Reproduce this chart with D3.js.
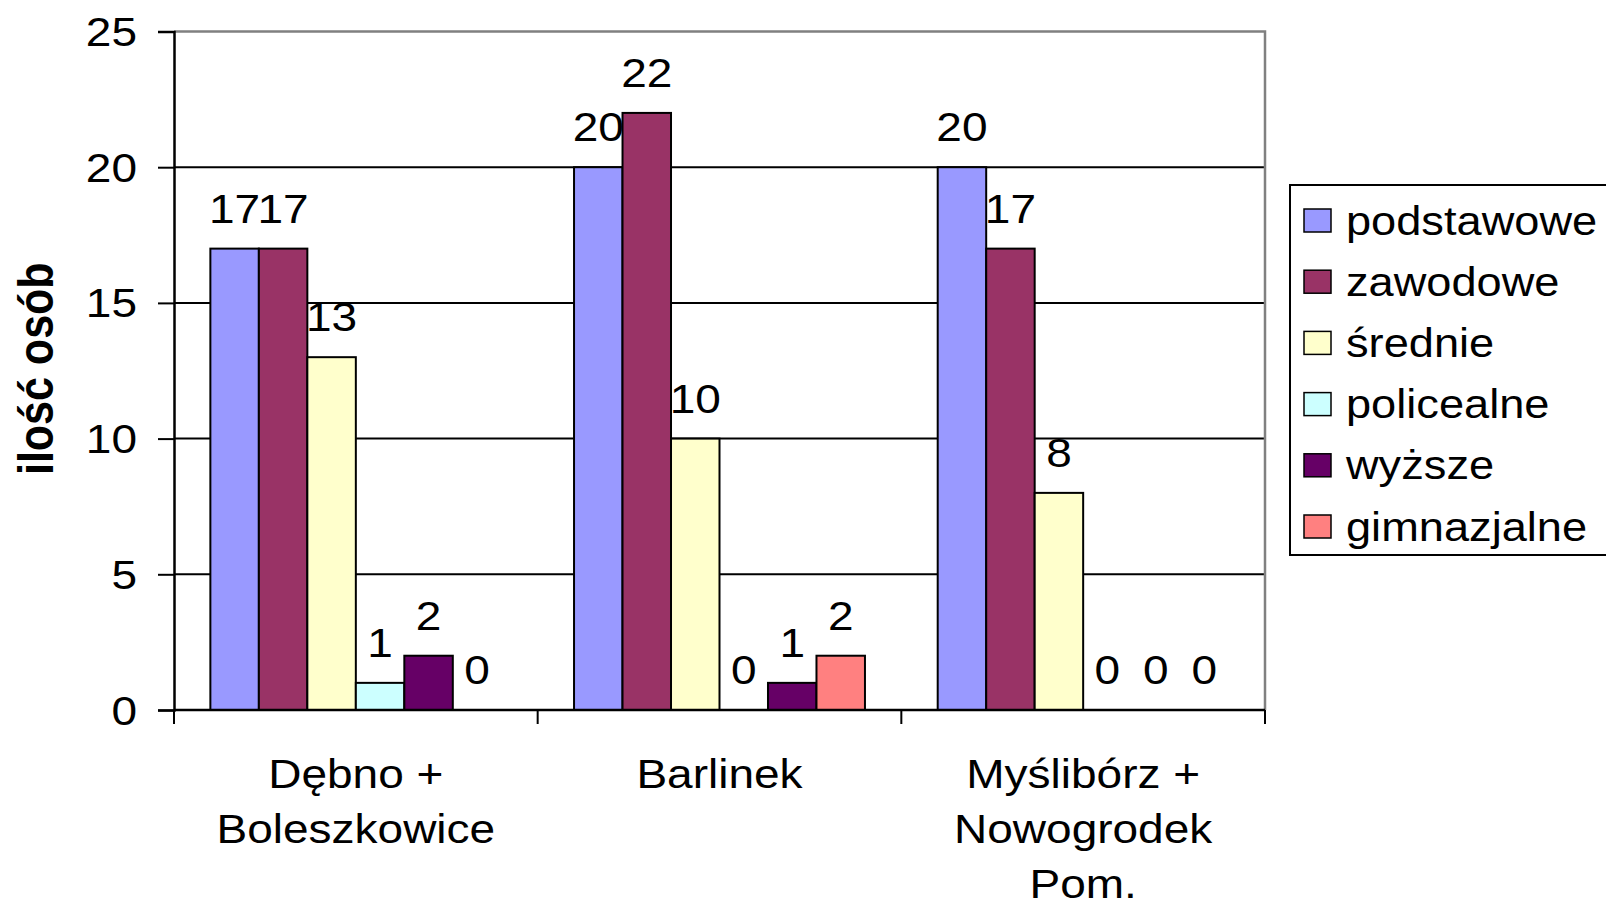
<!DOCTYPE html>
<html>
<head>
<meta charset="utf-8">
<script src="https://cdn.jsdelivr.net/npm/d3@7"></script>
<style>
  html, body { margin: 0; padding: 0; background: #fff; }
  svg { display: block; }
  text { font-family: "Liberation Sans", Arial, sans-serif; fill: #000; }
</style>
</head>
<body>
<svg id="chart" width="1606" height="901"></svg>
<script>
// ---- data ----
const categories = [["Dębno +", "Boleszkowice"], ["Barlinek"], ["Myślibórz +", "Nowogrodek", "Pom."]];
const seriesNames = ["podstawowe", "zawodowe", "średnie", "policealne", "wyższe", "gimnazjalne"];
const seriesColors = ["#9999FF", "#993366", "#FFFFCC", "#CCFFFF", "#660066", "#FF8080"];
const podstawowe  = [17, 20, 20];
const zawodowe    = [17, 22, 17];
const srednie     = [13, 10, 8];
const policealne  = [1, 0, 0];
const wyzsze      = [2, 1, 0];
const gimnazjalne = [0, 2, 0];
const yTicks = [0, 5, 10, 15, 20, 25];
const yTitle = "ilość osób";

const seriesValues = [podstawowe, zawodowe, srednie, policealne, wyzsze, gimnazjalne];
const catKeys = categories.map(c => c.join(" "));

// ---- layout ----
const SX = 1.15;          // horizontal stretch of text as in reference
const FS = 40;
const plot = { left: 174, right: 1265, top: 31.5, bottom: 710 };

const svg = d3.select("#chart");

const y = d3.scaleLinear().domain([0, 25]).range([plot.bottom, plot.top]);
const x0 = d3.scaleBand().domain(catKeys).range([plot.left, plot.right]).padding(0);
const bw = x0.bandwidth() / 7.5;
const x1 = d3.scaleBand().domain(seriesNames).range([bw * 0.75, x0.bandwidth() - bw * 0.75]).padding(0);

// gridlines
svg.append("g").selectAll("line")
  .data(yTicks.filter(t => t > 0 && t < 25))
  .join("line")
  .attr("x1", plot.left).attr("x2", plot.right)
  .attr("y1", d => y(d)).attr("y2", d => y(d))
  .attr("stroke", "#000").attr("stroke-width", 2);

// plot border (top & right, gray)
svg.append("path")
  .attr("d", `M${plot.left},${y(25)}H${plot.right}V${plot.bottom}`)
  .attr("fill", "none").attr("stroke", "#808080").attr("stroke-width", 2.5);

// bars
const groups = svg.append("g").selectAll("g")
  .data(catKeys)
  .join("g")
  .attr("transform", d => `translate(${x0(d)},0)`);

const barData = (ci) => seriesNames.map((s, si) => ({ s, si, v: seriesValues[si][ci] }));

groups.each(function (cat, ci) {
  const g = d3.select(this);
  g.selectAll("rect")
    .data(barData(ci).filter(d => d.v > 0))
    .join("rect")
    .attr("x", d => x1(d.s))
    .attr("y", d => y(d.v))
    .attr("width", x1.bandwidth())
    .attr("height", d => y(0) - y(d.v))
    .attr("fill", d => seriesColors[d.si])
    .attr("stroke", "#000").attr("stroke-width", 2);
});

// y axis
const yAxis = d3.axisLeft(y).tickValues(yTicks).tickSize(16).tickFormat(d3.format("d"));
const ya = svg.append("g").attr("transform", `translate(${plot.left},0)`).call(yAxis);
ya.select(".domain").attr("stroke", "#000").attr("stroke-width", 2.5);
ya.selectAll(".tick line").attr("stroke", "#000").attr("stroke-width", 2);
ya.selectAll(".tick text")
  .attr("x", null).attr("dy", null)
  .attr("transform", `translate(-37,14) scale(${SX},1)`)
  .style("font-size", FS + "px")
  .attr("text-anchor", "end");

// x axis
svg.append("line")
  .attr("x1", plot.left).attr("x2", plot.right)
  .attr("y1", plot.bottom).attr("y2", plot.bottom)
  .attr("stroke", "#000").attr("stroke-width", 2.5);
const bounds = catKeys.map(c => x0(c)).concat([plot.right]);
svg.append("g").selectAll("line")
  .data(bounds)
  .join("line")
  .attr("x1", d => d).attr("x2", d => d)
  .attr("y1", plot.bottom).attr("y2", plot.bottom + 14)
  .attr("stroke", "#000").attr("stroke-width", 2);

// category labels
categories.forEach((lines, ci) => {
  const cx = x0(catKeys[ci]) + x0.bandwidth() / 2;
  lines.forEach((ln, li) => {
    svg.append("text")
      .attr("transform", `translate(${cx},${788 + li * 55}) scale(${SX},1)`)
      .attr("text-anchor", "middle")
      .style("font-size", FS + "px")
      .text(ln);
  });
});

// data labels
groups.each(function (cat, ci) {
  const g = d3.select(this);
  g.selectAll("text")
    .data(barData(ci))
    .join("text")
    .attr("transform", d => `translate(${x1(d.s) + x1.bandwidth() / 2},${y(d.v) - 26}) scale(${SX},1)`)
    .attr("text-anchor", "middle")
    .style("font-size", FS + "px")
    .text(d => d.v);
});

// y title
svg.append("text")
  .attr("transform", `translate(53,${(plot.top + plot.bottom) / 2 - 2}) scale(${SX},1) rotate(-90)`)
  .attr("text-anchor", "middle")
  .style("font-size", "43px")
  .style("font-weight", "bold")
  .text(yTitle);

// legend
const leg = svg.append("g");
leg.append("rect")
  .attr("x", 1290).attr("y", 185).attr("width", 340).attr("height", 370)
  .attr("fill", "#fff").attr("stroke", "#000").attr("stroke-width", 2);
const items = leg.selectAll("g.item")
  .data(seriesNames)
  .join("g").attr("class", "item")
  .attr("transform", (d, i) => `translate(1304,${209 + i * 61.2})`);
items.append("rect")
  .attr("width", 27).attr("height", 23)
  .attr("fill", (d, i) => seriesColors[i])
  .attr("stroke", "#000").attr("stroke-width", 1.5);
items.append("text")
  .attr("transform", `translate(42,25.5) scale(1.13,1)`)
  .style("font-size", FS + "px")
  .text(d => d);
</script>
</body>
</html>
